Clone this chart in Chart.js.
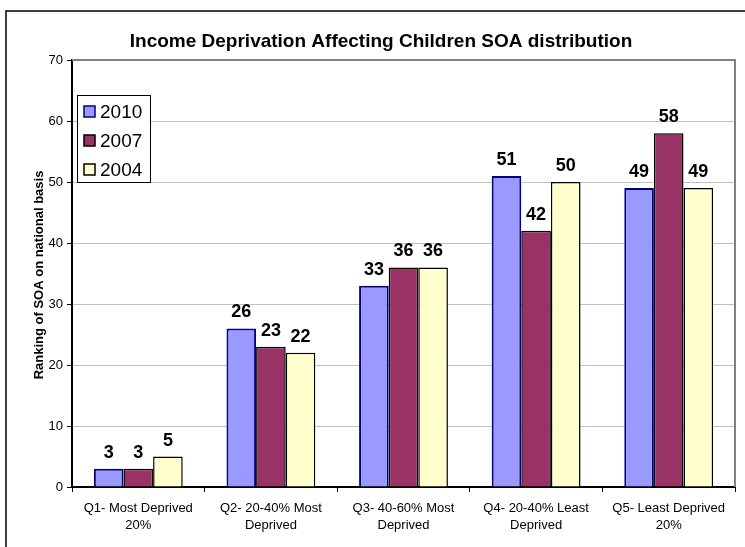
<!DOCTYPE html>
<html>
<head>
<meta charset="utf-8">
<script src="https://cdn.jsdelivr.net/npm/chart.js@4/dist/chart.umd.min.js"></script>
<style>
html,body{margin:0;padding:0;background:#fff;}
#wrap{position:relative;width:745px;height:547px;}
</style>
</head>
<body>
<div id="wrap"><canvas id="c" width="745" height="547"></canvas></div>
<script>
const categories = [
  ["Q1- Most Deprived", "20%"],
  ["Q2- 20-40% Most", "Deprived"],
  ["Q3- 40-60% Most", "Deprived"],
  ["Q4- 20-40% Least", "Deprived"],
  ["Q5- Least Deprived", "20%"]
];
const seriesNames = ["2010", "2007", "2004"];
const values2010 = [3, 26, 33, 51, 49];
const values2007 = [3, 23, 36, 42, 58];
const values2004 = [5, 22, 36, 50, 49];
const yTicks = [0, 10, 20, 30, 40, 50, 60, 70];
const chartTitle = "Income Deprivation Affecting Children SOA distribution";
const yTitle = "Ranking of SOA on national basis";

const FONT = "Arial, 'Liberation Sans', sans-serif";

const decorPlugin = {
  id: 'decor',
  beforeDraw(chart) {
    const ctx = chart.ctx;
    ctx.save();
    ctx.fillStyle = '#fff';
    ctx.fillRect(0, 0, chart.width, chart.height);
    ctx.strokeStyle = '#000';
    ctx.lineWidth = 1.5;
    ctx.beginPath();
    ctx.moveTo(6, 560);
    ctx.lineTo(6, 11);
    ctx.lineTo(760, 11);
    ctx.stroke();
    ctx.restore();
  },
  afterDatasetsDraw(chart) {
    const ctx = chart.ctx;
    const ca = chart.chartArea;
    ctx.save();
    ctx.strokeStyle = '#808080';
    ctx.lineWidth = 2;
    ctx.beginPath();
    ctx.moveTo(ca.left, ca.top);
    ctx.lineTo(ca.right, ca.top);
    ctx.lineTo(ca.right, ca.bottom);
    ctx.stroke();
    // data labels
    ctx.fillStyle = '#000';
    ctx.font = "bold 18px " + FONT;
    ctx.textAlign = 'center';
    ctx.textBaseline = 'alphabetic';
    chart.data.datasets.forEach((ds, i) => {
      const meta = chart.getDatasetMeta(i);
      meta.data.forEach((bar, j) => {
        ctx.fillText(String(ds.data[j]), bar.x, bar.y - 11);
      });
    });
    // title
    ctx.font = "bold 19px " + FONT;
    ctx.fillText(chartTitle, 381, 47);
    // y title
    ctx.save();
    ctx.translate(39, 275);
    ctx.rotate(-Math.PI / 2);
    ctx.font = "bold 13px " + FONT;
    ctx.textBaseline = 'middle';
    ctx.fillText(yTitle, 0, 0);
    ctx.restore();
    // legend
    const lx = 77, ly = 95, lw = 73, lh = 87;
    ctx.fillStyle = '#fff';
    ctx.fillRect(lx, ly, lw, lh);
    ctx.strokeStyle = '#000';
    ctx.lineWidth = 1;
    ctx.strokeRect(lx + 0.5, ly + 0.5, lw, lh);
    ctx.font = "19px " + FONT;
    ctx.textAlign = 'left';
    ctx.textBaseline = 'middle';
    chart.data.datasets.forEach((ds, i) => {
      const cy = ly + 17 + i * 29;
      ctx.fillStyle = ds.backgroundColor;
      ctx.fillRect(lx + 7, cy - 6, 11, 11);
      ctx.strokeStyle = ds.borderColor;
      ctx.lineWidth = 1.5;
      ctx.strokeRect(lx + 7, cy - 6, 11, 11);
      ctx.fillStyle = '#000';
      ctx.fillText(ds.label, lx + 23, cy + 1);
    });
    ctx.restore();
  }
};

new Chart(document.getElementById('c'), {
  type: 'bar',
  data: {
    labels: categories,
    datasets: [
      { label: seriesNames[0], data: values2010, backgroundColor: '#9999FF', borderColor: '#000080', borderWidth: 2 },
      { label: seriesNames[1], data: values2007, backgroundColor: '#993366', borderColor: '#000000', borderWidth: 1.5 },
      { label: seriesNames[2], data: values2004, backgroundColor: '#FFFFCC', borderColor: '#000000', borderWidth: 1.5 }
    ]
  },
  options: {
    responsive: false,
    animation: false,
    devicePixelRatio: 1,
    layout: { padding: { top: 60, right: 10, left: 0, bottom: 0 } },
    datasets: { bar: { categoryPercentage: 0.67, barPercentage: 1.0 } },
    plugins: { legend: { display: false }, title: { display: false }, tooltip: { enabled: false } },
    scales: {
      x: {
        offset: true,
        grid: { display: true, drawOnChartArea: false, offset: true, tickLength: 5, color: '#000', tickColor: '#000', tickWidth: 1 },
        border: { display: true, color: '#000', width: 2 },
        ticks: { color: '#000', font: { family: FONT, size: 13, lineHeight: 1.3 }, maxRotation: 0, autoSkip: false, padding: 8 },
        afterFit(scale) { scale.height = 60; }
      },
      y: {
        min: 0, max: 70,
        afterBuildTicks(scale) { scale.ticks = yTicks.map(v => ({ value: v })); },
        grid: { color: '#c0c0c0', tickColor: '#000', tickLength: 5, lineWidth: 1 },
        border: { display: true, color: '#000', width: 2 },
        ticks: { color: '#000', font: { family: FONT, size: 13 }, padding: 4 },
        afterFit(scale) { scale.width = 72; }
      }
    }
  },
  plugins: [decorPlugin]
});
</script>
</body>
</html>
